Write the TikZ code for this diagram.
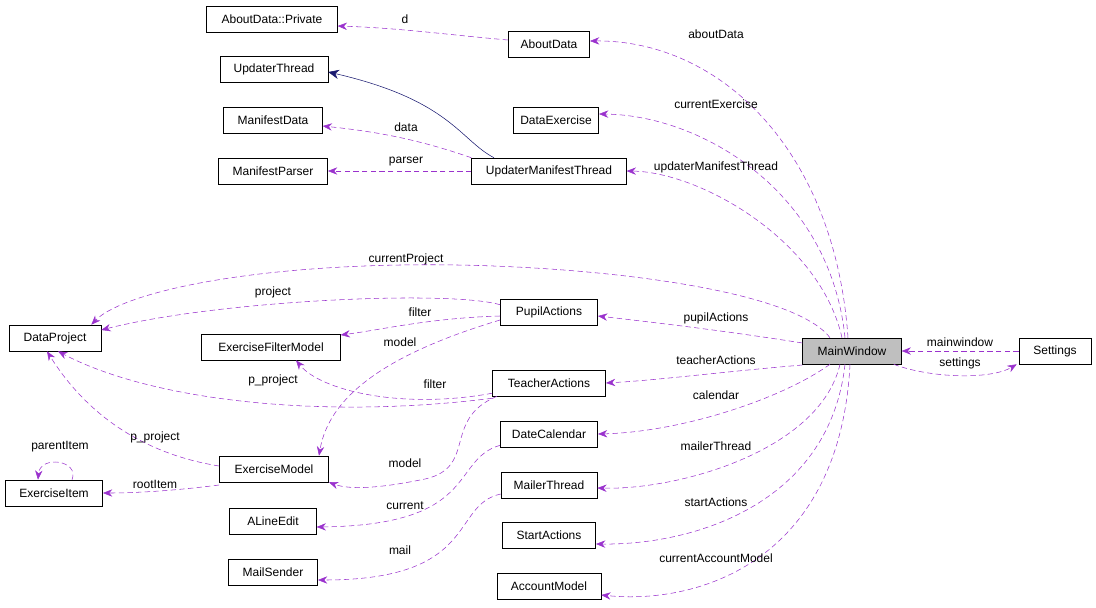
\documentclass[tikz,border=0pt]{standalone}
\usepackage{fontspec}
\setmainfont{Liberation Sans}
\usetikzlibrary{arrows.meta,calc}
\definecolor{pur}{HTML}{9A32CD}
\definecolor{nav}{HTML}{191970}
\begin{document}
\begin{tikzpicture}[x=0.75pt,y=-0.75pt,
  box/.style={draw,thin,fill=white,minimum height=19.5pt,inner xsep=4pt,font=\fontsize{9}{10}\selectfont},
  lbl/.style={font=\fontsize{9}{10}\selectfont,inner sep=1pt},
  dep/.style={pur,dashed,dash pattern=on 4pt off 2.5pt,-{Stealth[length=7pt,width=5.5pt]}},
  inh/.style={nav,-{Stealth[length=8pt,width=7pt,open,fill=nav]}}]
\useasboundingbox (0,0) rectangle (1096,607);
\node[box,minimum width=98pt] (ADP) at (272,19) {AboutData::Private};
\node[box,minimum width=61pt] (AD) at (549,44) {AboutData};
\node[box,minimum width=81pt] (UT) at (274,69) {UpdaterThread};
\node[box,minimum width=64pt] (DE) at (556,120) {DataExercise};
\node[box,minimum width=74pt] (MD) at (273,120) {ManifestData};
\node[box,minimum width=82pt] (MP) at (273,171) {ManifestParser};
\node[box,minimum width=116pt] (UMT) at (549,171) {UpdaterManifestThread};
\node[box,minimum width=69pt] (DP) at (55,338) {DataProject};
\node[box,minimum width=73pt] (PA) at (549,312) {PupilActions};
\node[box,minimum width=104pt] (EFM) at (271,347) {ExerciseFilterModel};
\node[box,minimum width=74pt,fill={rgb,255:red,191;green,191;blue,191}] (MW) at (852,351) {MainWindow};
\node[box,minimum width=54pt] (S) at (1055,351) {Settings};
\node[box,minimum width=85pt] (TA) at (549,383) {TeacherActions};
\node[box,minimum width=73pt] (DC) at (549,434) {DateCalendar};
\node[box,minimum width=82pt] (EM) at (274,469) {ExerciseModel};
\node[box,minimum width=73pt] (EI) at (54,493) {ExerciseItem};
\node[box,minimum width=72pt] (MT) at (549,485) {MailerThread};
\node[box,minimum width=65pt] (AL) at (273,521) {ALineEdit};
\node[box,minimum width=70pt] (SA) at (549,535) {StartActions};
\node[box,minimum width=67pt] (MS) at (273,572) {MailSender};
\node[box,minimum width=78pt] (AM) at (549,586) {AccountModel};

% MainWindow members
\draw[dep] ($(MW.north)+(-4,0)$) .. controls (835,150) and (720,40) .. ($(AD.east)+(0,-3)$);
\node[lbl] (l1) at (716,34) {aboutData};
\draw[dep] ($(MW.north)+(-7,0)$) .. controls (830,190) and (700,115) .. ($(DE.east)+(0,-6)$);
\node[lbl] (l2) at (716,104) {currentExercise};
\draw[dep] ($(MW.north)+(-10,0)$) .. controls (820,240) and (700,172) .. (UMT.east);
\node[lbl] (l3) at (716,167) {updaterManifestThread};
\draw[dep] ($(MW.north)+(-22,0)$) .. controls (790,285) and (560,262) .. (400,265) .. controls (230,268) and (120,295) .. ($(DP.north east)+(-10,0)$);
\node[lbl] (l4) at (406,259) {currentProject};
\draw[dep] ($(MW.west)+(0,-8)$) .. controls (720,330) and (650,322) .. ($(PA.east)+(0,4)$);
\node[lbl] (l5) at (716,318) {pupilActions};
\draw[dep] ($(MW.west)+(0,14)$) .. controls (720,372) and (660,380) .. (TA.east);
\node[lbl] (l6) at (716,360) {teacherActions};
\draw[dep] ($(MW.south)+(-22,0)$) .. controls (780,400) and (680,432) .. (DC.east);
\node[lbl] (l7) at (716,395) {calendar};
\draw[dep] ($(MW.south)+(-12,0)$) .. controls (820,450) and (680,490) .. ($(MT.east)+(0,3)$);
\node[lbl] (l8) at (716,446) {mailerThread};
\draw[dep] ($(MW.south)+(-7,0)$) .. controls (830,500) and (700,545) .. ($(SA.east)+(0,9)$);
\node[lbl] (l9) at (716,502) {startActions};
\draw[dep] ($(MW.south)+(-2,0)$) .. controls (840,560) and (700,605) .. ($(AM.east)+(0,9)$);
\node[lbl] (l10) at (716,558) {currentAccountModel};
\draw[dep] ($(MW.south east)+(-8,0)$) .. controls (930,378) and (990,380) .. ($(S.south west)+(-2,0)$);
\node[lbl] (l11) at (960,363) {settings};
\draw[dep] (S.west) -- (MW.east);
\node[lbl] (l12) at (960,342) {mainwindow};

\draw[dep] ($(AD.west)+(0,-4)$) .. controls (450,35) and (400,28) .. ($(ADP.east)+(0,7)$);
\node[lbl] (l13) at (405,19) {d};
\draw[inh] ($(UMT.north)+(-55,0)$) .. controls (460,140) and (450,100) .. ($(UT.east)+(0,3)$);
\draw[dep] ($(UMT.north west)+(0,0)$) .. controls (420,140) and (380,132) .. ($(MD.east)+(0,6)$);
\node[lbl] (l14) at (406,127) {data};
\draw[dep] (UMT.west) -- (MP.east);
\node[lbl] (l15) at (406,162) {parser};

\draw[dep] ($(PA.north west)+(0,6)$) .. controls (450,290) and (220,300) .. ($(DP.east)+(0,-8)$);
\node[lbl] (l16) at (273,292) {project};
\draw[dep] ($(PA.west)+(0,4)$) .. controls (430,318) and (380,330) .. ($(EFM.east)+(0,-12)$);
\node[lbl] (l17) at (420,312) {filter};
\draw[dep] ($(PA.west)+(0,8)$) .. controls (400,350) and (330,390) .. ($(EM.north)+(45,0)$);
\node[lbl] (l18) at (400,342) {model};

\draw[dep] ($(TA.south west)+(0,-3)$) .. controls (400,410) and (320,390) .. ($(EFM.south)+(25,0)$);
\node[lbl] (l19) at (435,384) {filter};
\draw[dep] ($(TA.south west)+(0,2)$) .. controls (320,420) and (150,400) .. ($(DP.south)+(3,0)$) ;
\node[lbl] (l20) at (273,380) {p\_project};
\draw[dep] ($(TA.south west)+(5,0)$) .. controls (440,420) and (480,470) .. (420,480) .. controls (380,488) and (350,490) .. ($(EM.south east)+(0,0)$);
\node[lbl] (l21) at (405,463) {model};
\draw[dep] ($(DC.south west)+(0,-2)$) .. controls (450,460) and (480,525) .. ($(AL.east)+(0,6)$);
\node[lbl] (l22) at (405,506) {current};
\draw[dep] ($(MT.west)+(0,9)$) .. controls (450,505) and (480,580) .. ($(MS.east)+(0,8)$);
\node[lbl] (l23) at (400,550) {mail};

\draw[dep] ($(EM.west)+(0,-3)$) .. controls (150,455) and (90,420) .. ($(DP.south)+(-8,0)$);
\node[lbl] (l24) at (155,437) {p\_project};
\draw[dep] ($(EM.west)+(0,16)$) .. controls (180,490) and (140,493) .. (EI.east);
\node[lbl] (l25) at (155,484) {rootItem};
\draw[dep] ($(EI.north)+(18,0)$) .. controls (80,460) and (40,455) .. ($(EI.north)+(-16,0)$);
\node[lbl] (l26) at (60,447) {parentItem};
\end{tikzpicture}
\end{document}
